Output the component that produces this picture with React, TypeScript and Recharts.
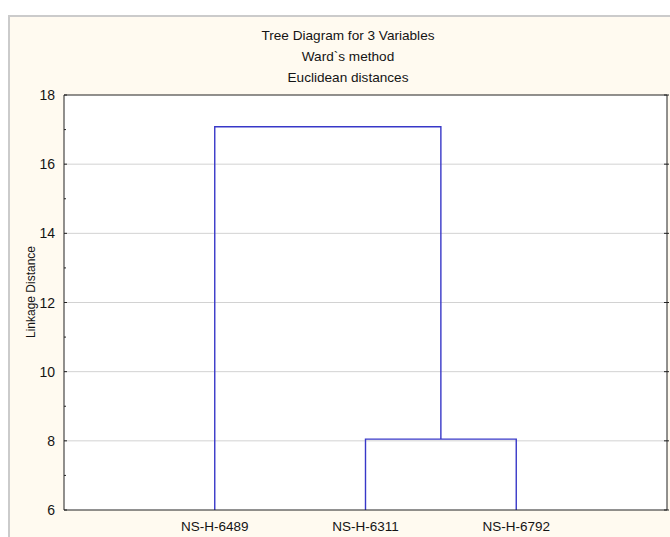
import React from 'react'
import { CartesianGrid, Line, LineChart, ReferenceLine, XAxis, YAxis } from 'recharts'

const leaves = ['NS-H-6489', 'NS-H-6311', 'NS-H-6792']
// each merge joins two nodes (leaf index, or 'c' + earlier merge index) at a linkage distance
const merges: Array<[number | string, number | string, number]> = [
  [1, 2, 8.05],
  [0, 'c0', 17.08],
]
const yTicks = [6, 8, 10, 12, 14, 16, 18]
const yAllTicks = [6, 7, 8, 9, 10, 11, 12, 13, 14, 15, 16, 17, 18]
const gridValues = [8, 10, 12, 14, 16]
const titleLines = ['Tree Diagram for 3 Variables', 'Ward`s method', 'Euclidean distances']
const yLabel = 'Linkage Distance'
const baseline = 6

const font = '"Liberation Sans", Arial, sans-serif'
const ink = '#141414'
const frame = '#222222'
const linkColor = '#3838c8'

function buildLinks() {
  const pos: Record<string, { x: number; y: number }> = {}
  leaves.forEach((_, i) => {
    pos[String(i)] = { x: i + 1, y: baseline }
  })
  return merges.map(([a, b, h], i) => {
    const pa = pos[String(a)]
    const pb = pos[String(b)]
    pos['c' + i] = { x: (pa.x + pb.x) / 2, y: h }
    return [
      { x: pa.x, y: pa.y },
      { x: pa.x, y: h },
      { x: pb.x, y: h },
      { x: pb.x, y: pb.y },
    ]
  })
}

const links = buildLinks()
const leafTicks = leaves.map((_, i) => i + 1)

function LeftTick(props: any) {
  const { x, y, payload } = props
  const major = payload.value % 2 === 0
  return (
    <g>
      <line x1={x} x2={x + (major ? 3 : 2)} y1={y} y2={y} stroke={frame} />
      {major && (
        <text x={x - 9} y={y} dy={5} textAnchor="end" fontSize={14} fontFamily={font} fill={ink}>
          {payload.value}
        </text>
      )}
    </g>
  )
}

function RightTick(props: any) {
  const { x, y } = props
  return <line x1={x - 3} x2={x + 2} y1={y} y2={y} stroke={frame} />
}

function TopTick(props: any) {
  const { x, y } = props
  return <line x1={x} x2={x} y1={y} y2={y + 3} stroke={frame} />
}

export default function App() {
  return (
    <div
      style={{
        position: 'fixed',
        left: 0,
        top: 0,
        width: 670,
        height: 537,
        overflow: 'hidden',
        background: '#ffffff',
      }}
    >
      <div
        style={{
          position: 'absolute',
          left: 8,
          top: 15,
          width: 700,
          height: 560,
          border: '2px solid #cbcbcb',
          background: '#fffaf0',
        }}
      />
      <div style={{ position: 'absolute', left: 0, top: 0 }}>
        <LineChart width={680} height={537} margin={{ top: 94, right: 3, bottom: 2, left: 24 }}>
          <CartesianGrid horizontal={false} vertical={false} fill="#ffffff" />
          <XAxis
            dataKey="x"
            type="number"
            domain={[0, 4]}
            ticks={leafTicks}
            allowDataOverflow
            tickFormatter={(v) => leaves[v - 1]}
            tickLine={false}
            tickSize={0}
            tickMargin={11}
            height={25}
            axisLine={{ stroke: frame }}
            tick={{ fill: ink, fontSize: 13.5, fontFamily: font }}
          />
          <XAxis
            xAxisId="top"
            orientation="top"
            type="number"
            domain={[0, 4]}
            ticks={leafTicks}
            allowDataOverflow
            height={1}
            tickSize={0}
            tickMargin={0}
            tickLine={false}
            tick={<TopTick />}
            axisLine={{ stroke: frame }}
          />
          <YAxis
            type="number"
            domain={[6, 18]}
            ticks={yAllTicks}
            allowDataOverflow
            width={40}
            tickSize={0}
            tickMargin={0}
            tickLine={false}
            tick={<LeftTick />}
            axisLine={{ stroke: frame }}
          />
          <YAxis
            yAxisId="right"
            orientation="right"
            type="number"
            domain={[6, 18]}
            ticks={yTicks}
            allowDataOverflow
            width={10}
            tickSize={0}
            tickMargin={0}
            tickLine={false}
            tick={<RightTick />}
            axisLine={{ stroke: frame }}
          />
          {gridValues.map((v) => (
            <ReferenceLine key={v} y={v} stroke="#d2d2d2" strokeWidth={1} />
          ))}
          {links.map((pts, i) => (
            <Line
              key={i}
              data={pts}
              dataKey="y"
              type="linear"
              stroke={linkColor}
              strokeWidth={1.4}
              dot={false}
              activeDot={false}
              isAnimationActive={false}
            />
          ))}
        </LineChart>
      </div>
      <svg
        width={670}
        height={537}
        style={{ position: 'absolute', left: 0, top: 0, pointerEvents: 'none' }}
      >
        {titleLines.map((t, i) => (
          <text
            key={t}
            x={348}
            y={40 + i * 21}
            textAnchor="middle"
            fontSize={13.6}
            fontFamily={font}
            fill={ink}
          >
            {t}
          </text>
        ))}
        <text
          transform="translate(35, 292) rotate(-90)"
          textAnchor="middle"
          fontSize={12}
          fontFamily={font}
          fill={ink}
        >
          {yLabel}
        </text>
      </svg>
    </div>
  )
}
